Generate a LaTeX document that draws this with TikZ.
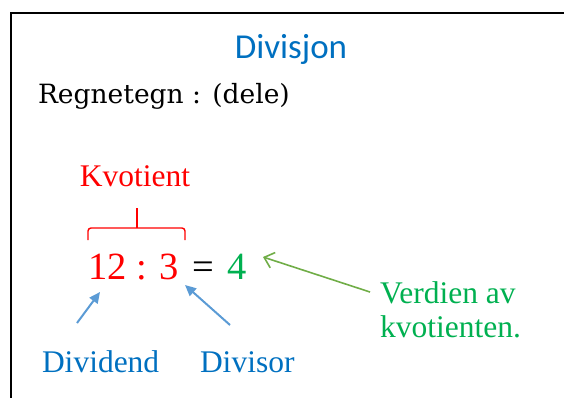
\documentclass[tikz,border=0pt]{standalone}
\usepackage{fontspec}
\setmainfont{Liberation Serif}
\newfontfamily\carlito{Carlito}
\newfontfamily\dvserif{DejaVu Serif}
\usetikzlibrary{arrows.meta}
\definecolor{txtblue}{HTML}{0070C0}
\definecolor{arrblue}{HTML}{5B9BD5}
\definecolor{txtgreen}{HTML}{00B050}
\definecolor{arrgreen}{HTML}{70AD47}
\definecolor{myred}{HTML}{FF0000}
\tikzset{
  lbl/.style={inner sep=0pt, outer sep=0pt},
  bigtxt/.style={font=\fontsize{31.5}{36}\selectfont},
  eqtxt/.style={font=\fontsize{38.5}{44}\selectfont},
  bluearrow/.style={draw=arrblue, line width=2pt, -{Triangle[length=11pt,width=10pt]}},
  greenarrow/.style={draw=arrgreen, line width=1.6pt, -{Straight Barb[length=9pt,width=16pt]}},
}
\begin{document}
\begin{tikzpicture}[x=1pt,y=-1pt]
\useasboundingbox (0,0) rectangle (564,397);
\draw[line width=2pt] (11,400) -- (11,13) -- (567,13);
\node[lbl, anchor=base, text=txtblue, font=\carlito\fontsize{35}{40}\selectfont] (title) at (291,58) {Divisjon};
\node[lbl, anchor=base west, font=\dvserif\fontsize{26.5}{30}\selectfont] (regn) at (38,103) {Regnetegn : (dele)};
\node[lbl, anchor=base, text=myred, bigtxt] (kvot) at (135,186) {Kvotient};
\node[lbl, anchor=base west, text=myred, eqtxt] (eq) at (88,279) {12 : 3};
\node[lbl, anchor=base west, eqtxt] (eqsign) at (192,279) {=};
\node[lbl, anchor=base west, text=txtgreen, eqtxt] (res) at (227,279) {4};
\draw[myred, line width=1.4pt, rounded corners=3pt] (88,240) |- (137,228) -| (185,240);
\draw[myred, line width=1.4pt] (137,228) -- (137,208);
\node[lbl, anchor=base west, text=txtgreen, bigtxt] (verd) at (380,303) {Verdien av};
\node[lbl, anchor=base west, text=txtgreen, bigtxt] (verd2) at (380,337) {kvotienten.};
\node[lbl, anchor=base west, text=txtblue, bigtxt] (dividend) at (42,372) {Dividend};
\node[lbl, anchor=base west, text=txtblue, bigtxt] (divisor) at (200,372) {Divisor};
\coordinate (gtail) at (370,292);
\coordinate (ghead) at (263,257);
\coordinate (b1tail) at (77,323);
\coordinate (b1head) at (100,292);
\coordinate (b2tail) at (230,325);
\coordinate (b2head) at (185,285);
\draw[greenarrow] (gtail) -- (ghead);
\draw[bluearrow] (b1tail) -- (b1head);
\draw[bluearrow] (b2tail) -- (b2head);
\end{tikzpicture}
\end{document}
